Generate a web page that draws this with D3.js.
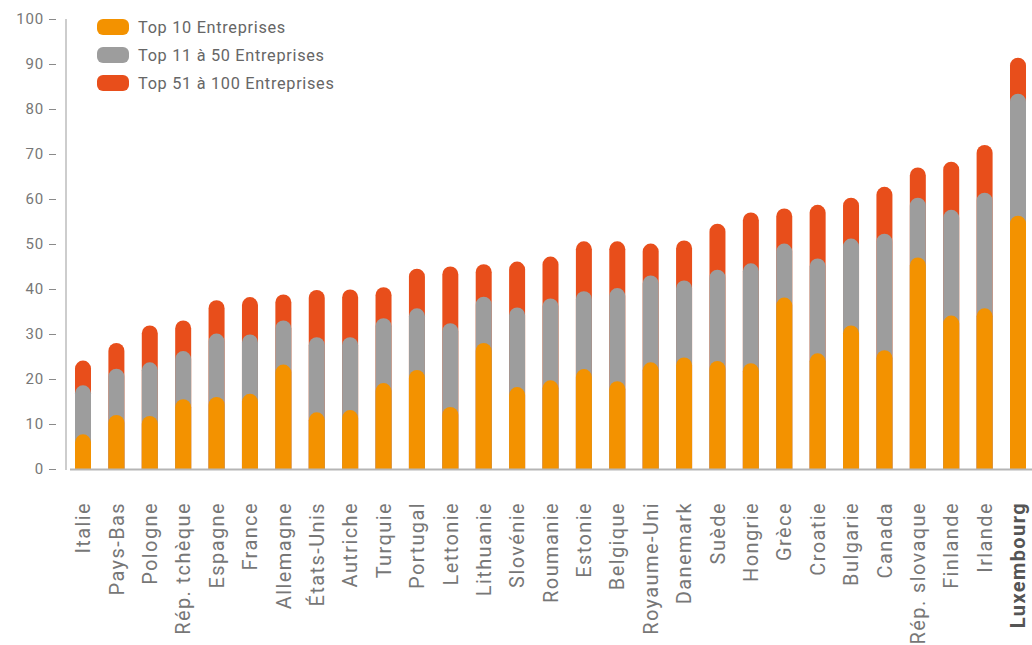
<!DOCTYPE html>
<html>
<head>
<meta charset="utf-8">
<script src="https://cdn.jsdelivr.net/npm/d3@7"></script>
<style>
  body { margin: 0; background: #fff; }
  svg { display: block; font-family: Roboto, "DejaVu Sans", sans-serif; }
</style>
</head>
<body>
<svg id="chart" width="1032" height="645"></svg>
<script>
// countries, sorted as in the source
const countries = ["Italie", "Pays-Bas", "Pologne", "Rép. tchèque", "Espagne", "France", "Allemagne",
  "États-Unis", "Autriche", "Turquie", "Portugal", "Lettonie", "Lithuanie", "Slovénie", "Roumanie",
  "Estonie", "Belgique", "Royaume-Uni", "Danemark", "Suède", "Hongrie", "Grèce", "Croatie",
  "Bulgarie", "Canada", "Rép. slovaque", "Finlande", "Irlande", "Luxembourg"];

// share of the top 10 firms
const top10 = [7.7, 12, 11.8, 15.5, 16, 16.7, 23.2, 12.6, 13.1, 19.1, 22, 13.8, 28, 18.2, 19.7,
  22.2, 19.5, 23.7, 24.8, 24, 23.5, 38.1, 25.7, 31.9, 26.4, 47, 34.1, 35.7, 56.3];
// cumulative share of the top 50 firms
const top50 = [18.6, 22.3, 23.7, 26.2, 30.1, 29.9, 33, 29.3, 29.3, 33.5, 35.7, 32.4, 38.3, 35.9, 37.9,
  39.5, 40.2, 43, 41.9, 44.3, 45.7, 50.1, 46.8, 51.2, 52.3, 60.3, 57.6, 61.4, 83.4];
// cumulative share of the top 100 firms
const top100 = [24.1, 28, 31.9, 33, 37.5, 38.2, 38.8, 39.8, 39.9, 40.4, 44.5, 45, 45.5, 46.1, 47.2,
  50.6, 50.6, 50.1, 50.8, 54.5, 57, 57.9, 58.7, 60.3, 62.7, 67, 68.3, 72, 91.4];

const legendLabels = ["Top 10 Entreprises", "Top 11 à 50 Entreprises", "Top 51 à 100 Entreprises"];
const colors = ["#f39200", "#9d9d9d", "#e84e1b"];
const yTicks = [0, 10, 20, 30, 40, 50, 60, 70, 80, 90, 100];
const bold = "Luxembourg";

const svg = d3.select("#chart");
const barW = 16;

const x = d3.scalePoint()
    .domain(countries)
    .range([83, 1018]);

const y = d3.scaleLinear()
    .domain([0, 100])
    .range([469, 19]);

// y axis: ticks sit apart from the axis line
svg.append("g")
    .attr("transform", "translate(56,0)")
    .call(d3.axisLeft(y).tickValues(yTicks).tickSize(7).tickPadding(5))
    .call(g => g.select(".domain").remove())
    .call(g => g.selectAll(".tick line").attr("stroke", "#8a8a8a"))
    .call(g => g.selectAll(".tick text")
        .attr("fill", "#777")
        .attr("font-size", 15)
        .attr("letter-spacing", 0.8)
        .attr("font-family", "Roboto, sans-serif"));

svg.append("line")
    .attr("x1", 66).attr("x2", 66)
    .attr("y1", 19).attr("y2", 470)
    .attr("stroke", "#bdbdbd")
    .attr("stroke-width", 1.5);

// rounded-top column from the baseline up to v
function pill(cx, v) {
  const r = barW / 2;
  const x0 = cx - r, x1 = cx + r;
  const yb = y(0), yt = y(v);
  return `M${x0},${yb}V${yt + r}A${r},${r} 0 0 1 ${x1},${yt + r}V${yb}Z`;
}

const series = [top100, top50, top10];
const seriesColor = [colors[2], colors[1], colors[0]];

series.forEach((vals, k) => {
  svg.append("g")
      .attr("fill", seriesColor[k])
      .selectAll("path")
      .data(countries)
      .join("path")
      .attr("d", (d, i) => pill(x(d), vals[i]));
});

// baseline
svg.append("line")
    .attr("x1", 70).attr("x2", 1032)
    .attr("y1", y(0) + 0.5).attr("y2", y(0) + 0.5)
    .attr("stroke", "#b5b5b5")
    .attr("stroke-width", 2);

// country labels
svg.append("g")
    .selectAll("text")
    .data(countries)
    .join("text")
    .attr("transform", d => `translate(${x(d)},502) rotate(-90)`)
    .attr("text-anchor", "end")
    .attr("dy", "0.36em")
    .attr("font-size", 20)
    .attr("letter-spacing", 1.4)
    .attr("fill", d => d === bold ? "#555" : "#777")
    .attr("font-weight", d => d === bold ? "bold" : null)
    .text(d => d);

// legend
const legend = svg.append("g")
    .selectAll("g")
    .data(legendLabels)
    .join("g")
    .attr("transform", (d, i) => `translate(97,${19 + i * 28})`);

legend.append("rect")
    .attr("width", 32).attr("height", 16)
    .attr("rx", 6)
    .attr("fill", (d, i) => colors[i]);

legend.append("text")
    .attr("x", 41).attr("y", 13.5)
    .attr("font-size", 16.3)
    .attr("letter-spacing", 0.7)
    .attr("fill", "#666")
    .text(d => d);
</script>
</body>
</html>
